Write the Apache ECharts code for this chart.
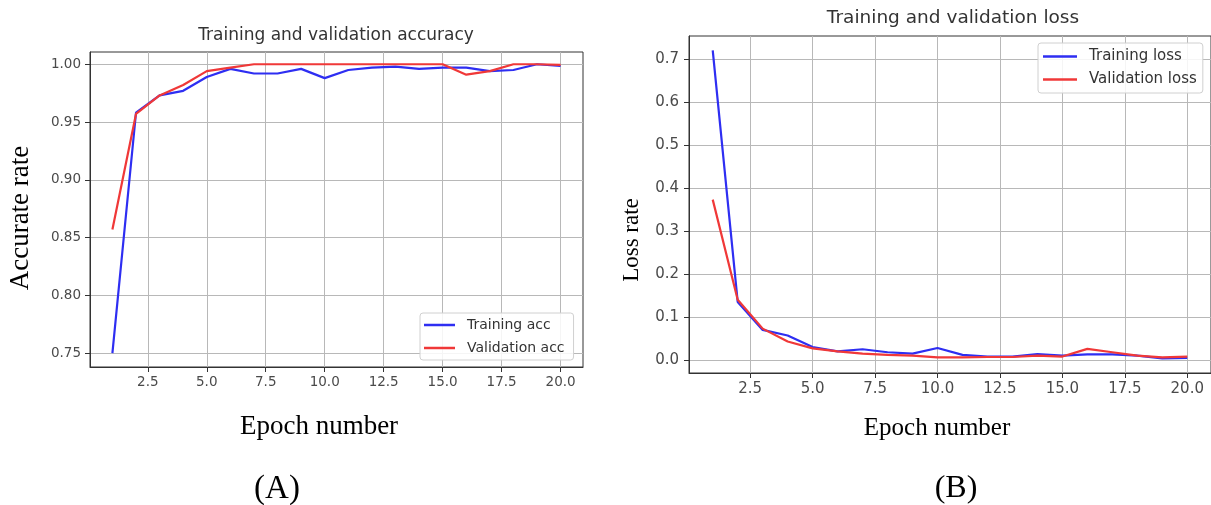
<!DOCTYPE html>
<html>
<head>
<meta charset="utf-8">
<script src="https://cdn.jsdelivr.net/npm/echarts@6/dist/echarts.min.js"></script>
<style>
html,body{margin:0;padding:0;background:#fff;}
#chart{width:1211px;height:505px;}
</style>
</head>
<body>
<div id="chart"></div>
<script>
const epochs = [1,2,3,4,5,6,7,8,9,10,11,12,13,14,15,16,17,18,19,20];
const trainAcc = [0.750,0.958,0.973,0.977,0.989,0.996,0.992,0.992,0.996,0.988,0.995,0.997,0.998,0.996,0.997,0.997,0.994,0.995,1.000,0.9985];
const valAcc = [0.857,0.957,0.973,0.982,0.994,0.997,1.000,1.000,1.000,1.000,1.000,1.000,1.000,1.000,1.000,0.991,0.994,1.000,1.000,0.9995];
const trainLoss = [0.720,0.135,0.070,0.057,0.030,0.020,0.025,0.018,0.015,0.028,0.012,0.008,0.008,0.014,0.010,0.013,0.013,0.010,0.004,0.005];
const valLoss = [0.373,0.140,0.073,0.043,0.027,0.020,0.015,0.012,0.010,0.006,0.006,0.007,0.007,0.010,0.008,0.026,0.018,0.010,0.006,0.008];
const xTicks = [2.5,5,7.5,10,12.5,15,17.5,20];
const accTicks = [0.75,0.80,0.85,0.90,0.95,1.00];
const lossTicks = [0,0.1,0.2,0.3,0.4,0.5,0.6,0.7];
const seriesNames = ['Training acc','Validation acc','Training loss','Validation loss'];

const BLUE = '#2e2ef2';
const RED = '#f03838';
const sans = 'DejaVu Sans';
const serif = 'Liberation Serif';
const pairs = (ys) => epochs.map((e,i)=>[e, ys[i]]);

function xAxis(gi, fs, margin){
  return {
    type:'value', gridIndex:gi, min:0.05, max:20.95,
    axisLine:{show:true, onZero:false, lineStyle:{color:'#333', width:1}},
    axisTick:{show:true, inside:false, length:5, lineStyle:{color:'#333'}, customValues:xTicks},
    axisLabel:{customValues:xTicks, formatter:v=>v.toFixed(1), fontFamily:sans, fontSize:fs, color:'#4a4a4a', margin:margin},
    splitLine:{show:true, lineStyle:{color:'#b8b8b8', width:1}}
  };
}
function yAxis(gi, min, max, ticks, dec, fs, margin){
  return {
    type:'value', gridIndex:gi, min:min, max:max,
    axisLine:{show:true, onZero:false, lineStyle:{color:'#333', width:1}},
    axisTick:{show:true, inside:false, length:5, lineStyle:{color:'#333'}, customValues:ticks},
    axisLabel:{customValues:ticks, formatter:v=>v.toFixed(dec), fontFamily:sans, fontSize:fs, color:'#4a4a4a', margin:margin},
    splitLine:{show:true, lineStyle:{color:'#b8b8b8', width:1}}
  };
}
function line(name, data, color, xi, yi){
  return {name:name, type:'line', xAxisIndex:xi, yAxisIndex:yi, data:pairs(data), symbol:'none', showSymbol:false,
    lineStyle:{color:color, width:2.2}, itemStyle:{color:color}, animation:false};
}

const chart = echarts.init(document.getElementById('chart'));
chart.setOption({
  animation:false,
  backgroundColor:'#fff',
  title:[
    {text:'Training and validation accuracy', left:336, top:27, textAlign:'center', padding:0,
     textStyle:{fontFamily:sans, fontSize:17, fontWeight:'normal', color:'#333'}},
    {text:'Training and validation loss', left:953, top:9, textAlign:'center', padding:0,
     textStyle:{fontFamily:sans, fontSize:18.5, fontWeight:'normal', color:'#333'}}
  ],
  grid:[
    {left:90, top:52, width:493, height:315, show:true, borderColor:'#333', borderWidth:1, backgroundColor:'#fff'},
    {left:689, top:36, width:527, height:337, show:true, borderColor:'#333', borderWidth:1, backgroundColor:'#fff'}
  ],
  xAxis:[xAxis(0, 13.5, 8), xAxis(1, 15, 9)],
  yAxis:[yAxis(0, 0.7379, 1.0106, accTicks, 2, 13.5, 9), yAxis(1, -0.0302, 0.7535, lossTicks, 1, 15, 10)],
  legend:[
    {data:[seriesNames[0], seriesNames[1]], orient:'vertical', left:420, top:313, icon:'rect', itemWidth:31, itemHeight:2.5, itemGap:7,
     padding:[4,9,4,4], backgroundColor:'rgba(255,255,255,0.85)', borderColor:'#d0d0d0', borderWidth:1, borderRadius:3,
     textStyle:{fontFamily:sans, fontSize:14, lineHeight:16, color:'#333', padding:[0,0,0,7]}},
    {data:[seriesNames[2], seriesNames[3]], orient:'vertical', left:1038, top:43, icon:'rect', itemWidth:34, itemHeight:2.5, itemGap:6,
     padding:[5,6,5,5], backgroundColor:'rgba(255,255,255,0.85)', borderColor:'#d0d0d0', borderWidth:1, borderRadius:3,
     textStyle:{fontFamily:sans, fontSize:15, lineHeight:17, color:'#333', padding:[0,0,0,7]}}
  ],
  series:[
    line(seriesNames[0], trainAcc, BLUE, 0, 0),
    line(seriesNames[1], valAcc, RED, 0, 0),
    line(seriesNames[2], trainLoss, BLUE, 1, 1),
    line(seriesNames[3], valLoss, RED, 1, 1)
  ],
  graphic:[
    {type:'text', x:21, y:218, rotation:Math.PI/2, style:{text:'Accurate rate', fontFamily:serif, fontSize:27, fill:'#000', textAlign:'center', textVerticalAlign:'middle', align:'center', verticalAlign:'middle'}},
    {type:'text', x:632, y:240, rotation:Math.PI/2, style:{text:'Loss rate', fontFamily:serif, fontSize:23, fill:'#000', textAlign:'center', textVerticalAlign:'middle', align:'center', verticalAlign:'middle'}},
    {type:'text', x:319, y:427, style:{text:'Epoch number', fontFamily:serif, fontSize:27, fill:'#000', textAlign:'center', textVerticalAlign:'middle', align:'center', verticalAlign:'middle'}},
    {type:'text', x:937, y:428, style:{text:'Epoch number', fontFamily:serif, fontSize:25, fill:'#000', textAlign:'center', textVerticalAlign:'middle', align:'center', verticalAlign:'middle'}},
    {type:'text', x:277, y:489, style:{text:'(A)', fontFamily:serif, fontSize:33, fill:'#000', textAlign:'center', textVerticalAlign:'middle', align:'center', verticalAlign:'middle'}},
    {type:'text', x:956, y:489, style:{text:'(B)', fontFamily:serif, fontSize:32, fill:'#000', textAlign:'center', textVerticalAlign:'middle', align:'center', verticalAlign:'middle'}}
  ]
});
</script>
</body>
</html>
